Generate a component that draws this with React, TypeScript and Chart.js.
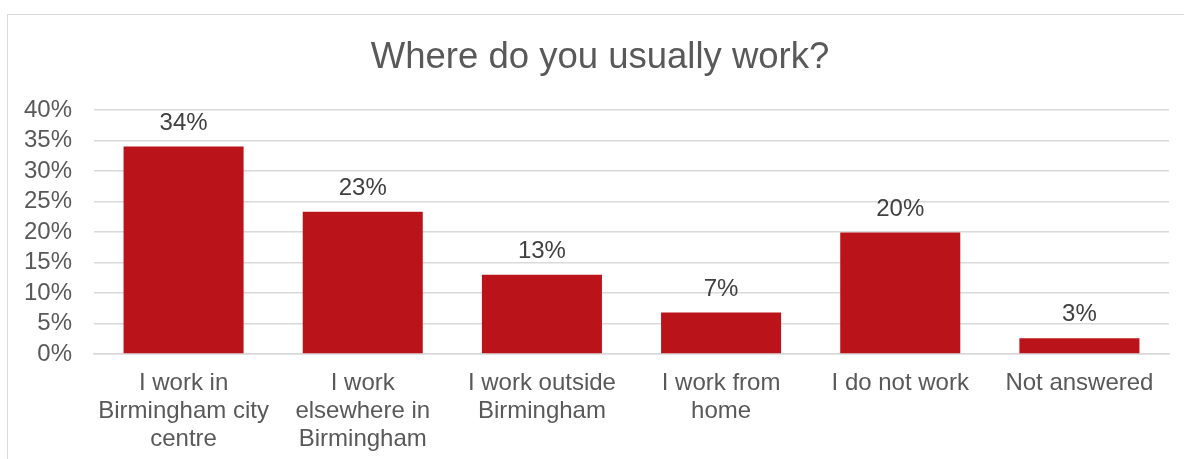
import React, { useEffect, useRef } from "react";
import { Chart, registerables } from "chart.js";

Chart.register(...registerables);

const TITLE = "Where do you usually work?";
const categories: string[][] = [
  ["I work in", "Birmingham city", "centre"],
  ["I work", "elsewhere in", "Birmingham"],
  ["I work outside", "Birmingham"],
  ["I work from", "home"],
  ["I do not work"],
  ["Not answered"],
];
const values: number[] = [34, 23.3, 13, 6.8, 19.9, 2.6];
const valueLabels: string[] = ["34%", "23%", "13%", "7%", "20%", "3%"];
const yTickMax = 40;
const yTickStep = 5;

const FONT = "'Liberation Sans', Arial, sans-serif";

export default function App() {
  const ref = useRef<HTMLCanvasElement | null>(null);

  useEffect(() => {
    if (!ref.current) return;
    const titlePlugin = {
      id: "customTitle",
      afterDraw(chart: any) {
        const ctx = chart.ctx;
        ctx.save();
        ctx.font = `36.5px ${FONT}`;
        ctx.fillStyle = "#595959";
        ctx.textAlign = "center";
        ctx.textBaseline = "alphabetic";
        ctx.fillText(TITLE, 600, 68);
        ctx.restore();
      },
    };
    const labelPlugin = {
      id: "valueLabels",
      afterDatasetsDraw(chart: any) {
        const ctx = chart.ctx;
        const meta = chart.getDatasetMeta(0);
        ctx.save();
        ctx.font = `24px ${FONT}`;
        ctx.fillStyle = "#404040";
        ctx.textAlign = "center";
        ctx.textBaseline = "alphabetic";
        meta.data.forEach((bar: any, i: number) => {
          ctx.fillText(valueLabels[i], bar.x, bar.y - 17);
        });
        ctx.restore();
      },
    };
    const chart = new Chart(ref.current, {
      type: "bar",
      data: {
        labels: categories,
        datasets: [
          {
            data: values,
            backgroundColor: "#BA141A",
            borderWidth: 0,
            barPercentage: 0.67,
            categoryPercentage: 1,
          },
        ],
      },
      options: {
        animation: false,
        responsive: false,
        layout: { padding: { left: 8, right: 15, top: 110, bottom: 0 } },
        plugins: {
          legend: { display: false },
          title: { display: false },
          tooltip: { enabled: false },
        },
        scales: {
          x: {
            grid: { display: false, drawTicks: false },
            border: { display: true, color: "#d9d9d9", width: 1.5 },
            ticks: {
              color: "#595959",
              font: { family: FONT, size: 24, lineHeight: 1.15 },
              padding: 16,
              maxRotation: 0,
              autoSkip: false,
            },
            afterFit(scale: any) {
              scale.height = 105;
            },
          },
          y: {
            min: 0,
            max: yTickMax,
            grid: { color: "#d9d9d9", lineWidth: 1.5, drawTicks: false },
            border: { display: false },
            ticks: {
              stepSize: yTickStep,
              autoSkip: false,
              color: "#595959",
              font: { family: FONT, size: 24 },
              padding: 22,
              callback: (v: any) => `${v}%`,
            },
            afterFit(scale: any) {
              scale.width = 86;
            },
          },
        },
      },
      plugins: [titlePlugin, labelPlugin],
    });
    return () => chart.destroy();
  }, []);

  return (
    <div
      style={{
        position: "fixed",
        left: 0,
        top: 0,
        width: 1184,
        height: 459,
        overflow: "hidden",
        background: "#fff",
      }}
    >
      <div
        style={{
          position: "absolute",
          left: 7,
          top: 14,
          width: 1200,
          height: 500,
          borderLeft: "1.5px solid #d9d9d9",
          borderTop: "1.5px solid #d9d9d9",
        }}
      />
      <canvas
        ref={ref}
        width={1184}
        height={459}
        style={{ position: "absolute", left: 0, top: 0, width: 1184, height: 459 }}
      />
    </div>
  );
}
